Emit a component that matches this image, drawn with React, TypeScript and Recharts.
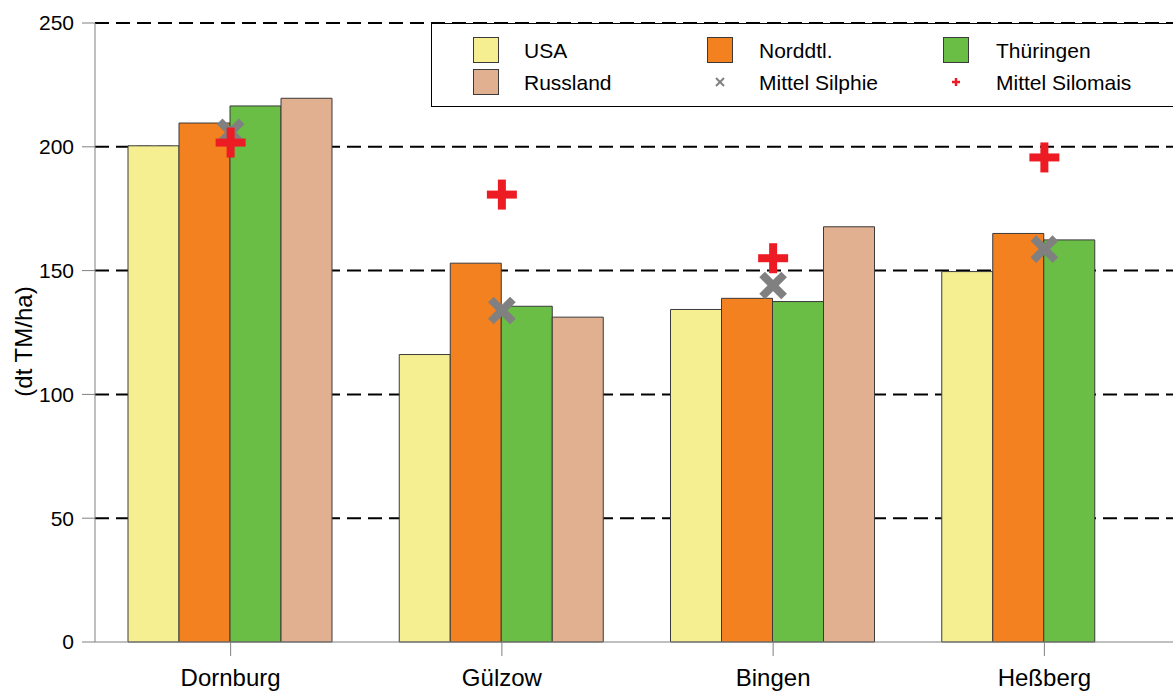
import { ComposedChart, Bar, Scatter, XAxis, YAxis, CartesianGrid, Legend } from 'recharts';

const sites = ['Dornburg', 'Gülzow', 'Bingen', 'Heßberg'];
const usa = [200.4, 116.1, 134.3, 149.6];
const norddtl = [209.6, 153.0, 138.8, 165.0];
const thueringen = [216.5, 135.6, 137.5, 162.4];
const russland = [219.6, 131.2, 167.7, null];
const mittelSilphie = [205.8, 133.9, 144.0, 158.7];
const mittelSilomais = [201.7, 180.7, 155.0, 195.7];
const yTicks = [0, 50, 100, 150, 200, 250];
const gridValues = [50, 100, 150, 200, 250];

const data = sites.map((site, i) => ({
  site,
  usa: usa[i],
  nord: norddtl[i],
  thu: thueringen[i],
  rus: russland[i],
  silphie: mittelSilphie[i],
  silomais: mittelSilomais[i],
}));

const GRAY = '#808080';
const RED = '#ed1c24';
const BAR_STROKE = '#3a3a3a';

const legendOrder = ['USA', 'Norddtl.', 'Thüringen', 'Russland', 'Mittel Silphie', 'Mittel Silomais'];
const colLeft = [41, 275, 511];
const textLeft = [92, 327, 564];
const rowTop = [13, 45];

function XMark(props: any) {
  const { cx, cy } = props;
  if (cx == null || cy == null) return null;
  const r = 11;
  return (
    <g>
      <line x1={cx - r} y1={cy - r} x2={cx + r} y2={cy + r} stroke={GRAY} strokeWidth={8} />
      <line x1={cx - r} y1={cy + r} x2={cx + r} y2={cy - r} stroke={GRAY} strokeWidth={8} />
    </g>
  );
}

function PlusMark(props: any) {
  const { cx, cy } = props;
  if (cx == null || cy == null) return null;
  const r = 15;
  return (
    <g>
      <line x1={cx - r} y1={cy} x2={cx + r} y2={cy} stroke={RED} strokeWidth={8} />
      <line x1={cx} y1={cy - r} x2={cx} y2={cy + r} stroke={RED} strokeWidth={8} />
    </g>
  );
}

function LegendBox(props: any) {
  const payload: any[] = props.payload || [];
  return (
    <div
      style={{
        position: 'relative',
        width: 780,
        height: 84,
        border: '1px solid #000',
        background: '#fff',
        boxSizing: 'border-box',
        fontSize: 21,
        color: '#000',
      }}
    >
      {legendOrder.map((name, i) => {
        const entry = payload.find((p) => p.value === name);
        const col = i % 3;
        const row = Math.floor(i / 3);
        const top = rowTop[row];
        let marker;
        if (name === 'Mittel Silphie') {
          marker = (
            <svg width={26} height={26} style={{ position: 'absolute', left: colLeft[col], top }}>
              <line x1={9} y1={9} x2={17} y2={17} stroke={GRAY} strokeWidth={2} />
              <line x1={9} y1={17} x2={17} y2={9} stroke={GRAY} strokeWidth={2} />
            </svg>
          );
        } else if (name === 'Mittel Silomais') {
          marker = (
            <svg width={26} height={26} style={{ position: 'absolute', left: colLeft[col], top }}>
              <line x1={9} y1={13} x2={17} y2={13} stroke={RED} strokeWidth={2.5} />
              <line x1={13} y1={9} x2={13} y2={17} stroke={RED} strokeWidth={2.5} />
            </svg>
          );
        } else {
          marker = (
            <div
              style={{
                position: 'absolute',
                left: colLeft[col],
                top,
                width: 26,
                height: 26,
                background: entry ? entry.color : '#ccc',
                border: `1px solid ${BAR_STROKE}`,
                boxSizing: 'border-box',
              }}
            />
          );
        }
        return (
          <div key={name}>
            {marker}
            <span
              style={{
                position: 'absolute',
                left: textLeft[col],
                top: top + 13,
                transform: 'translateY(-50%)',
                whiteSpace: 'nowrap',
                lineHeight: 1,
              }}
            >
              {name}
            </span>
          </div>
        );
      })}
    </div>
  );
}

export default function App() {
  return (
    <div
      style={{
        width: 1165,
        height: 683,
        overflow: 'hidden',
        position: 'absolute',
        left: 8,
        top: 8,
        fontFamily: '"Liberation Sans", Arial, sans-serif',
      }}
    >
      <ComposedChart
        width={1180}
        height={683}
        data={data}
        margin={{ top: 15, right: 8, left: 0, bottom: 0 }}
        barGap={0}
        barCategoryGap={33}
      >
        <CartesianGrid
          horizontal
          vertical={false}
          horizontalValues={gridValues}
          stroke="#000"
          strokeWidth={2}
          strokeDasharray="14 7"
        />
        <XAxis
          dataKey="site"
          interval={0}
          height={49}
          stroke={GRAY}
          tickSize={14}
          tickMargin={13}
          tick={{ fill: '#000', fontSize: 24 }}
        />
        <YAxis
          width={87}
          domain={[0, 250]}
          ticks={yTicks}
          interval={0}
          stroke={GRAY}
          tickSize={13}
          tickMargin={8}
          tick={{ fill: '#000', fontSize: 21 }}
          label={(p: any) => {
            const vb = p.viewBox || {};
            const x = 16;
            const y = (vb.y || 0) + (vb.height || 0) / 2 + 9;
            return (
              <text
                x={x}
                y={y}
                transform={`rotate(-90, ${x}, ${y})`}
                textAnchor="middle"
                dy="0.35em"
                fontSize={24}
                fill="#000"
              >
                (dt TM/ha)
              </text>
            );
          }}
        />
        <Legend
          layout="horizontal"
          verticalAlign="middle"
          align="center"
          content={<LegendBox />}
          wrapperStyle={{ position: 'absolute', left: 423, top: 15, width: 780 }}
        />
        <Bar dataKey="usa" name="USA" fill="#f6ef91" stroke={BAR_STROKE} strokeWidth={1} isAnimationActive={false} />
        <Bar dataKey="nord" name="Norddtl." fill="#f48120" stroke={BAR_STROKE} strokeWidth={1} isAnimationActive={false} />
        <Bar dataKey="thu" name="Thüringen" fill="#6abd45" stroke={BAR_STROKE} strokeWidth={1} isAnimationActive={false} />
        <Bar dataKey="rus" name="Russland" fill="#e1b091" stroke={BAR_STROKE} strokeWidth={1} isAnimationActive={false} />
        <Scatter dataKey="silphie" name="Mittel Silphie" fill={GRAY} shape={<XMark />} isAnimationActive={false} />
        <Scatter dataKey="silomais" name="Mittel Silomais" fill={RED} shape={<PlusMark />} isAnimationActive={false} />
      </ComposedChart>
    </div>
  );
}
